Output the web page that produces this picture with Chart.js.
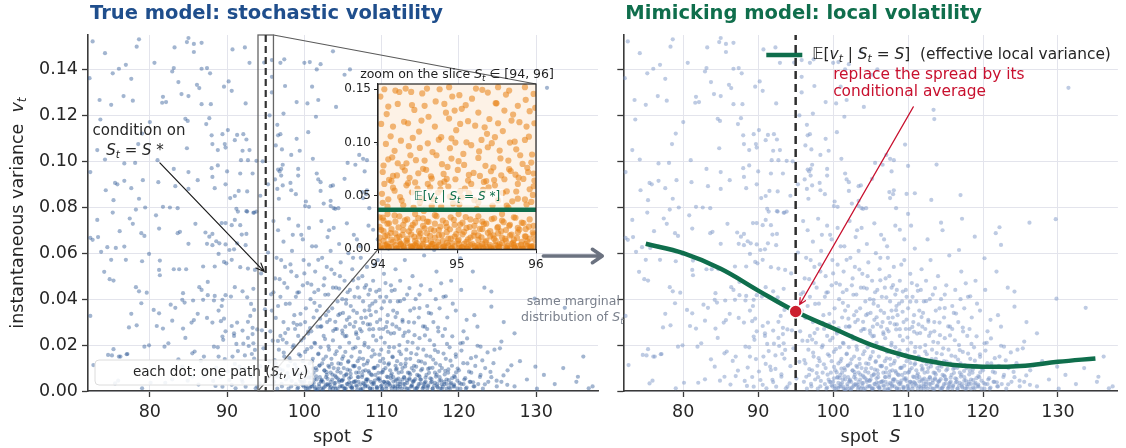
<!DOCTYPE html>
<html>
<head>
<meta charset="utf-8">
<script src="https://cdn.jsdelivr.net/npm/chart.js@4.4.1/dist/chart.umd.min.js"></script>
<style>
  html, body { margin: 0; padding: 0; background: #fff; }
  #wrap { position: relative; width: 1126px; height: 448px; overflow: hidden; }
  #wrap canvas { position: absolute; left: 0; top: 0; }
</style>
</head>
<body>
<div id="wrap">
  <canvas id="left" width="1126" height="448"></canvas>
  <canvas id="right" width="1126" height="448"></canvas>
  <canvas id="inset" width="1126" height="448"></canvas>
</div>
<script>
// axes
const xMin = 72, xMax = 138, yMax = 0.155;
const xTicks = [80, 90, 100, 110, 120, 130];
const yTicks = [0, 0.02, 0.04, 0.06, 0.08, 0.10, 0.12, 0.14];
const insetXTicks = [94, 95, 96];
const insetYTicks = [0, 0.05, 0.10, 0.15];

const sliceLo = 94, sliceHi = 96, sStar = 95;
const condMean = 0.037;   // conditional mean in the slice (inset line)
const dotV = 0.0346;      // red dot on the local variance curve

// effective local variance E[v | S]
const localS = [75, 80, 85, 90, 95, 100, 105, 110, 115, 120, 125, 130, 135];
const localV = [0.0641, 0.0600, 0.0532, 0.0437, 0.0346, 0.0273, 0.0202, 0.0150, 0.0118, 0.0106, 0.0109, 0.0127, 0.0142];

// simulated paths (S_t, v_t)
const pathsHighLeft = [
  [72.6,0.1522],[74.2,0.1471],[78.6,0.1531],[78.3,0.1499],[85.0,0.1537],[84.8,0.1519],[85.7,0.1511],[86.7,0.1516],[85.7,0.1476],[83.2,0.1496],
  [90.7,0.1487],[92.3,0.1496],[92.9,0.1429],[80.6,0.1429],[75.2,0.1383],[76.0,0.1403],[76.9,0.1420],[77.6,0.1359],[72.2,0.1362],[83.1,0.1406],
  [82.9,0.1391],[86.7,0.1403],[87.4,0.1406],[87.8,0.1383],[83.7,0.1345],[86.1,0.1333],[86.4,0.1319],[89.6,0.1325],[90.2,0.1348],[90.6,0.1307],
  [76.6,0.1284],[77.8,0.1264],[75.0,0.1246],[73.5,0.1267],[81.7,0.1281],[81.6,0.1255],[82.1,0.1258],[84.1,0.1293],[85.0,0.1284],[86.7,0.1249],
  [87.9,0.1249],[92.4,0.1252],[73.6,0.1182],[80.0,0.1171],[84.6,0.1185],[84.9,0.1176],[87.7,0.1188],[87.3,0.1162],[79.0,0.1121],[78.5,0.1075],
  [73.2,0.1049],[74.2,0.1008],[76.7,0.0991],[78.1,0.0993],[81.0,0.1005],[84.8,0.1057],[88.0,0.1113],[88.1,0.1075],[89.4,0.1118],[90.1,0.1136],
  [91.3,0.1115],[92.1,0.1118],[91.0,0.1092],[92.5,0.1095],[88.8,0.1049],[89.8,0.1060],[92.0,0.1046],[92.9,0.1049],[89.7,0.1075],[91.8,0.1005],
  [92.7,0.1005],[88.8,0.0982],[88.0,0.0970],[93.8,0.1002],[72.3,0.0953],[75.5,0.0906],[75.8,0.0900],[76.7,0.0915],[77.6,0.0883],[79.1,0.0918],
  [81.1,0.0909],[83.1,0.0967],[83.3,0.0892],[85.0,0.0953],[86.2,0.0918],[85.0,0.0880],[88.1,0.0932],[88.4,0.0883],[89.8,0.0900],[90.0,0.0956],
  [91.7,0.0947],[93.3,0.0947],[91.5,0.0871],[92.6,0.0869],[90.4,0.0840],[74.3,0.0874],[75.3,0.0831],[78.6,0.0837],[81.7,0.0802],[82.6,0.0799],
  [83.6,0.0796],[79.4,0.0799],[78.2,0.0790],[91.2,0.0793],[91.4,0.0781],[92.6,0.0781],[93.4,0.0776],[93.8,0.0781],[91.0,0.0849],
  [94.8,0.1430],[95.5,0.1200],[94.6,0.1000],[95.3,0.0900],[95.8,0.1300],[94.3,0.0850]
];
const pathsHighRight = [
  [95.8,0.1441],[96.9,0.1429],[97.4,0.1444],[100.0,0.1429],[100.7,0.1432],[102.1,0.1423],[101.6,0.1400],[103.7,0.1479],[95.8,0.1368],[97.5,0.1328],
  [101.0,0.1325],[99.0,0.1258],[100.4,0.1252],[101.8,0.1267],[104.1,0.1237],[105.2,0.1377],[105.9,0.1400],[97.3,0.1208],[101.5,0.1194],[96.5,0.1159],
  [96.9,0.1118],[96.6,0.1113],[100.5,0.1127],[99.0,0.1098],[96.3,0.1069],[97.1,0.1052],[98.3,0.1028],[99.4,0.1046],[101.1,0.1011],[107.1,0.1028],
  [107.6,0.1011],[108.1,0.1005],[105.6,0.0993],[106.6,0.0985],[97.2,0.0985],[97.0,0.0967],[96.6,0.0964],[96.8,0.0956],[99.2,0.0967],[99.2,0.0938],
  [97.0,0.0938],[96.2,0.0921],[98.2,0.0906],[96.5,0.0880],[97.2,0.0895],[98.3,0.0874],[98.9,0.0857],[101.6,0.0947],[101.8,0.0921],[102.1,0.0909],
  [103.4,0.0892],[103.7,0.0895],[102.1,0.0871],[105.2,0.0924],[107.8,0.0956],[107.5,0.0866],[108.1,0.0874],[108.0,0.0857],[107.6,0.0840],[96.7,0.0837],
  [100.2,0.0825],[100.6,0.0802],[100.1,0.0805],[102.5,0.0816],[103.4,0.0828],[103.4,0.0805],[104.0,0.0793],[104.4,0.0796],[103.8,0.0796],[108.4,0.0796],
  [109.6,0.1073],[110.0,0.0980],[113.8,0.0986],[117.0,0.0853],[113.1,0.0832],[110.9,0.0861],[109.8,0.0858],[113.4,0.1224],[113.5,0.1184],[131.4,0.1320],
  [110.0,0.0771],[114.4,0.0733],[122.2,0.0713],[126.2,0.0733],[129.7,0.0748],[108.9,0.0702]
];
const pathsMidLeft = [
  [73.2,0.0745],[75.2,0.0777],[77.4,0.0751],[77.8,0.0728],[80.8,0.0765],[81.2,0.0707],[76.1,0.0696],[78.9,0.0687],[79.3,0.0675],[83.6,0.0687],
  [83.9,0.0693],[85.0,0.0641],[85.9,0.0728],[87.2,0.0690],[87.7,0.0672],[87.4,0.0641],[88.1,0.0684],[88.6,0.0652],[88.1,0.0635],[89.0,0.0643],
  [89.3,0.0731],[89.8,0.0731],[90.6,0.0722],[91.0,0.0745],[91.7,0.0722],[92.5,0.0783],[93.5,0.0777],[91.9,0.0681],[92.5,0.0684],[91.3,0.0643],
  [92.4,0.0635],[90.9,0.0617],[89.8,0.0638],[90.3,0.0614],[88.9,0.0597],[72.3,0.0667],[72.6,0.0658],[73.3,0.0670],[73.7,0.0606],[74.5,0.0626],
  [75.6,0.0623],[76.7,0.0629],[75.0,0.0571],[76.9,0.0571],[79.0,0.0565],[79.9,0.0597],[81.3,0.0568],[81.2,0.0527],[83.1,0.0530],[83.8,0.0530],
  [84.7,0.0530],[86.9,0.0542],[88.4,0.0542],[89.6,0.0562],[89.9,0.0556],[90.6,0.0571],[91.7,0.0539],[92.7,0.0533],[93.6,0.0527],[74.1,0.0519],
  [74.8,0.0487],[75.3,0.0481],[78.2,0.0452],[78.6,0.0434],[79.6,0.0428],[81.3,0.0504],[84.3,0.0426],[84.2,0.0397],[84.5,0.0385],[85.6,0.0394],
  [86.4,0.0452],[86.7,0.0440],[87.5,0.0475],[87.5,0.0417],[88.3,0.0394],[89.4,0.0397],[89.8,0.0417],[90.5,0.0411],[86.9,0.0397],[88.4,0.0414],
  [88.9,0.0350],[89.3,0.0370],[91.0,0.0452],[92.0,0.0434],[92.6,0.0408],[93.1,0.0379],[93.5,0.0353],[78.9,0.0382],[82.7,0.0376],[83.3,0.0362],
  [77.6,0.0336],[80.5,0.0353],[81.2,0.0338],[77.3,0.0277],[78.3,0.0286],[80.9,0.0283],[81.7,0.0272],[82.9,0.0306],[84.3,0.0272],[85.4,0.0298],
  [85.7,0.0309],[86.2,0.0336],[87.4,0.0318],[88.1,0.0298],[89.2,0.0304],[89.6,0.0315],[89.8,0.0260],[90.6,0.0283],[91.3,0.0298],[92.0,0.0263],
  [92.7,0.0301],[93.3,0.0275],[93.0,0.0327],[89.4,0.0237],[90.9,0.0240],[79.9,0.0199],[79.3,0.0193],[82.4,0.0208],[81.9,0.0193],[84.6,0.0231],
  [88.3,0.0193],[88.8,0.0190],[91.2,0.0205],[92.8,0.0196],[93.4,0.0208],[72.3,0.0327],[75.3,0.0182],[75.1,0.0155],[76.2,0.0150],[77.1,0.0161],
  [85.5,0.0164],[87.0,0.0150],[88.9,0.0150],[90.7,0.0150],[92.3,0.0155],[93.6,0.0179],[93.2,0.0161],
  [72.7,0.0113],[75.5,0.0033],[75.9,0.0045],[74.6,0.0157],[76.0,0.0150],[77.0,0.0160],[79.0,0.0012],[80.1,0.0036],[82.0,0.0036],[82.9,0.0051],
  [84.2,0.0106],[85.5,0.0062],[86.3,0.0028],[87.0,0.0065],[88.5,0.0022],[89.4,0.0019],[90.3,0.0048],[91.1,0.0012],[91.6,0.0106],[92.0,0.0039],
  [92.4,0.0019],[93.1,0.0062],[94.2,0.0033],[93.7,0.0012],
  [88.6,0.0102],[89.2,0.0061],[89.7,0.0139],[90.1,0.0085],[90.6,0.0027],[91.0,0.0118],[91.4,0.0174],[91.9,0.0049],[92.3,0.0096],[92.7,0.0231],
  [93.1,0.0072],[93.5,0.0141],[93.9,0.0019],[94.3,0.0108],[94.7,0.0186],[95.1,0.0054],[95.5,0.0127],[95.9,0.0219],[94.5,0.0264],[93.3,0.0248],
  [92.1,0.0206],[90.9,0.0251],[89.5,0.0223],[91.7,0.0091],[88.2,0.0044],[87.3,0.0089],[86.6,0.0131],[85.8,0.0172],[84.9,0.0045],[83.7,0.0138]
];
const pathsMidRight = [
  [96.0,0.074],[96.6,0.070],[97.3,0.065],[98.0,0.075],[98.5,0.068],[99.2,0.072],[99.8,0.066],[100.6,0.071],[101.5,0.063],[102.2,0.074],
  [103.0,0.067],[103.8,0.071],[104.5,0.064],[105.5,0.073],[106.4,0.068],[107.2,0.063],[108.3,0.072],[109.5,0.066],
  [95.8,0.035],[96.2,0.049],[96.4,0.058],[96.9,0.041],[97.3,0.030],[97.5,0.054],[97.8,0.045],[98.1,0.038],[98.4,0.061],[98.7,0.033],
  [99.0,0.050],[99.3,0.043],[99.5,0.029],[99.9,0.057],[100.2,0.036],[100.4,0.047],[100.8,0.040],[101.0,0.063],[101.2,0.032],[101.4,0.052],
  [101.8,0.044],[102.0,0.037],[102.3,0.058],[102.6,0.049],[102.8,0.033],[103.1,0.042],[103.4,0.061],[103.6,0.036],[103.9,0.051],[104.1,0.045],
  [104.4,0.033],[104.7,0.056],[104.9,0.040],[105.2,0.048],[105.4,0.038],[105.7,0.060],[105.9,0.044],[106.2,0.053],[106.5,0.041],[106.8,0.034],
  [107.0,0.049],[107.3,0.058],[107.6,0.039],[107.8,0.045],[108.1,0.054],[108.3,0.042],[108.6,0.033],[108.9,0.048],[109.2,0.039],[109.5,0.057],
  [109.7,0.044],[110.0,0.036],[110.3,0.051],[110.6,0.041],[110.9,0.062],[111.2,0.046],[111.5,0.035],[111.8,0.053],[112.1,0.039],[112.4,0.048],
  [112.7,0.031],[113.0,0.057],[113.3,0.042],[113.7,0.035],[114.0,0.050],[114.4,0.040],[114.8,0.032],[115.1,0.046],[115.5,0.059],[115.9,0.037],
  [116.3,0.044],[116.7,0.030],[117.1,0.052],[117.5,0.036],[118.0,0.041],[118.5,0.032],[119.0,0.048],[119.6,0.035],[120.3,0.044],[121.0,0.031],
  [121.8,0.052],[99.6,0.068],[103.2,0.070],[106.8,0.066],[110.4,0.072],[112.6,0.066],[114.6,0.070],[117.2,0.075],
  [95.6,0.026],[96.0,0.043],[96.6,0.037],[97.0,0.057],[97.4,0.047],[97.9,0.027],[98.3,0.052],[98.9,0.041],[99.2,0.024],[99.8,0.046],
  [100.1,0.030],[100.6,0.055],[100.9,0.026],[101.3,0.043],[101.6,0.035],[102.1,0.028],[102.5,0.046],[102.9,0.054],[103.3,0.031],[103.7,0.045],
  [104.0,0.027],[104.3,0.039],[104.6,0.050],[105.0,0.034],[105.3,0.028],[105.6,0.043],[106.0,0.037],[106.3,0.058],[106.6,0.030],[106.9,0.045],
  [107.2,0.027],[107.5,0.050],[107.8,0.035],[108.2,0.029],[108.5,0.044],[108.8,0.038],[109.1,0.055],[109.4,0.030],[109.8,0.041],[110.2,0.027],
  [110.5,0.047],[110.8,0.033],[111.1,0.039],[111.4,0.029],[111.7,0.044],[112.0,0.034],[112.3,0.027],[112.9,0.040],[113.5,0.030],[114.2,0.036],
  [114.9,0.042],[115.6,0.028],[116.1,0.034],[117.0,0.040],[118.2,0.027],[119.2,0.038],[120.6,0.026],[122.0,0.033],[123.3,0.045],[125.8,0.030],
  [124.2,0.0367],[125.5,0.0215],[127.2,0.0251],[129.8,0.0402],[133.7,0.0362],[122.4,0.0280],[122.8,0.0193],[120.2,0.0208],[118.9,0.0672],[121.7,0.0687],
  [122.4,0.0636],[120.2,0.0578],[116.8,0.0614],[117.7,0.0469],[124.2,0.0433],[135.4,0.0062],[136.8,0.0012],[129.9,0.0106],
  [93.4,0.0445],[93.9,0.0268],[94.4,0.0512],[94.9,0.0356],[95.3,0.0603],[95.7,0.0421],[96.3,0.0318],[96.8,0.0487],[97.2,0.0224],[97.6,0.0379],
  [98.2,0.0551],[98.6,0.0297],[99.1,0.0428],[99.5,0.0336],[100.0,0.0512],[100.5,0.0259],[100.9,0.0463],[101.3,0.0384],[101.8,0.0571],[102.2,0.0281],
  [102.7,0.0419],[103.1,0.0347],[103.5,0.0529],[104.0,0.0301],[104.5,0.0446],[104.9,0.0263],[105.4,0.0397],[105.8,0.0321],[106.3,0.0482],[106.7,0.0255],
  [107.1,0.0408],[107.6,0.0297],[108.0,0.0461],[108.4,0.0352],[108.9,0.0269],[109.3,0.0433],[109.8,0.0311],[110.3,0.0389],[110.8,0.0258],[111.3,0.0436],
  [111.8,0.0322],[112.4,0.0391],[113.0,0.0254],[113.6,0.0448],[114.2,0.0298],[114.9,0.0361],[115.6,0.0242],[116.4,0.0337],[117.3,0.0276],[118.3,0.0412]
];
const pathsCore = [
  [96.1,0.004],[96.3,0.012],[96.5,0.001],[96.7,0.018],[96.8,0.007],[96.9,0.024],
  [97.1,0.002],[97.2,0.009],[97.4,0.015],[97.6,0.005],[97.7,0.021],[97.9,0.011],[97.95,0.001],
  [98.0,0.006],[98.2,0.013],[98.3,0.002],[98.5,0.019],[98.6,0.008],[98.8,0.027],[98.9,0.003],
  [99.0,0.010],[99.1,0.001],[99.3,0.016],[99.4,0.005],[99.6,0.022],[99.7,0.008],[99.9,0.002],[99.8,0.013],
  [100.0,0.004],[100.1,0.017],[100.2,0.001],[100.3,0.009],[100.5,0.025],[100.6,0.006],[100.7,0.012],[100.8,0.002],[100.9,0.019],[100.95,0.007],
  [101.0,0.003],[101.1,0.014],[101.2,0.008],[101.3,0.021],[101.4,0.001],[101.5,0.010],[101.6,0.005],[101.7,0.028],[101.8,0.016],[101.9,0.002],[101.95,0.011],
  [102.0,0.006],[102.1,0.019],[102.2,0.001],[102.3,0.012],[102.4,0.004],[102.5,0.024],[102.6,0.009],[102.7,0.002],[102.8,0.015],[102.9,0.007],[102.95,0.030],
  [103.0,0.003],[103.1,0.011],[103.2,0.018],[103.3,0.001],[103.4,0.008],[103.5,0.014],[103.6,0.005],[103.7,0.022],[103.8,0.010],[103.9,0.002],
  [104.0,0.016],[104.1,0.006],[104.2,0.027],[104.3,0.001],[104.4,0.012],[104.5,0.004],[104.6,0.019],[104.7,0.008],[104.8,0.002],[104.9,0.014],[104.95,0.025],
  [105.0,0.005],[105.1,0.010],[105.2,0.001],[105.3,0.017],[105.4,0.007],[105.5,0.031],[105.6,0.003],[105.7,0.013],[105.8,0.021],[105.9,0.009],[105.95,0.002],[105.45,0.024],
  [106.0,0.006],[106.1,0.015],[106.2,0.001],[106.3,0.011],[106.4,0.028],[106.5,0.004],[106.6,0.019],[106.7,0.008],[106.8,0.002],[106.9,0.013],[106.95,0.023],[106.35,0.035],
  [107.0,0.004],[107.1,0.010],[107.2,0.017],[107.3,0.001],[107.4,0.026],[107.5,0.007],[107.6,0.014],[107.7,0.003],[107.8,0.021],[107.9,0.009],[107.95,0.032],[107.55,0.001],
  [108.0,0.005],[108.1,0.012],[108.2,0.002],[108.3,0.019],[108.4,0.008],[108.5,0.029],[108.6,0.004],[108.7,0.015],[108.8,0.001],[108.9,0.024],[108.95,0.010],[108.45,0.037],
  [109.0,0.003],[109.1,0.016],[109.2,0.007],[109.3,0.022],[109.4,0.001],[109.5,0.011],[109.6,0.005],[109.7,0.027],[109.8,0.013],[109.9,0.002],[109.95,0.018],
  [110.0,0.008],[110.1,0.001],[110.2,0.014],[110.3,0.004],[110.4,0.021],[110.5,0.010],[110.6,0.002],[110.7,0.030],[110.8,0.006],[110.9,0.017],[110.95,0.012],
  [111.0,0.003],[111.1,0.009],[111.2,0.025],[111.3,0.001],[111.4,0.015],[111.5,0.006],[111.6,0.019],[111.7,0.002],[111.8,0.011],[111.9,0.028],[111.95,0.005],
  [112.0,0.013],[112.1,0.002],[112.2,0.008],[112.3,0.020],[112.4,0.004],[112.5,0.016],[112.6,0.001],[112.7,0.010],[112.8,0.024],[112.9,0.006],
  [113.0,0.003],[113.1,0.012],[113.2,0.018],[113.3,0.001],[113.4,0.008],[113.5,0.026],[113.6,0.005],[113.7,0.014],[113.8,0.002],[113.9,0.010],
  [114.0,0.021],[114.1,0.004],[114.2,0.011],[114.3,0.001],[114.5,0.016],[114.6,0.007],[114.7,0.002],[114.8,0.013],[114.9,0.023],
  [115.0,0.005],[115.1,0.009],[115.3,0.001],[115.4,0.018],[115.5,0.003],[115.6,0.012],[115.8,0.007],[115.9,0.027],
  [116.0,0.002],[116.2,0.010],[116.3,0.015],[116.5,0.004],[116.6,0.001],[116.8,0.020],[116.9,0.008],
  [117.0,0.012],[117.2,0.003],[117.3,0.017],[117.5,0.006],[117.6,0.001],[117.8,0.010],[117.9,0.024],
  [118.1,0.004],[118.3,0.014],[118.4,0.001],[118.6,0.008],[118.8,0.019],[118.9,0.003],
  [119.1,0.011],[119.3,0.002],[119.5,0.006],[119.6,0.016],[119.8,0.001],
  [120.0,0.009],[120.3,0.003],[120.5,0.021],[120.7,0.005],[120.9,0.001],
  [121.1,0.012],[121.4,0.004],[121.6,0.008],[121.9,0.002],
  [122.2,0.015],[122.5,0.003],[122.8,0.007],[123.1,0.001],[123.4,0.010],[123.8,0.004],
  [124.2,0.006],[124.6,0.018],[124.9,0.002],[125.5,0.004],[126.3,0.009],[127.2,0.002],[127.9,0.013],[128.8,0.005],[130.1,0.001],
  [131.0,0.007],[132.4,0.003],[133.5,0.010],[135.2,0.004],[136.1,0.015],[137.3,0.002]
];
const pathsCoreFill = [
  [96.15,0.0135],[96.42,0.0062],[96.58,0.0218],[96.83,0.0095],[97.05,0.0031],[97.33,0.0167],[97.52,0.0252],[97.81,0.0078],[98.07,0.0143],[98.36,0.0044],
  [98.61,0.0199],[98.77,0.0116],[99.04,0.0288],[99.26,0.0071],[99.49,0.0153],[99.68,0.0039],[99.93,0.0231],[100.12,0.0105],[100.36,0.0182],[100.55,0.0058],
  [100.74,0.0274],[100.98,0.0129],[101.21,0.0036],[101.39,0.0207],[101.58,0.0091],[101.82,0.0163],[102.04,0.0315],[102.27,0.0049],[102.46,0.0138],[102.68,0.0226],
  [102.87,0.0082],[103.12,0.0194],[103.31,0.0027],[103.55,0.0118],[103.73,0.0262],[103.96,0.0067],[104.18,0.0173],[104.39,0.0098],[104.61,0.0336],[104.83,0.0045],
  [105.04,0.0151],[105.26,0.0238],[105.47,0.0074],[105.66,0.0126],[105.89,0.0291],[106.08,0.0034],[106.29,0.0185],[106.53,0.0109],[106.72,0.0247],[106.91,0.0061],
  [107.13,0.0142],[107.36,0.0318],[107.58,0.0086],[107.77,0.0199],[107.99,0.0041],[108.22,0.0131],[108.41,0.0268],[108.64,0.0072],[108.86,0.0177],[109.05,0.0102],
  [109.27,0.0345],[109.48,0.0055],[109.71,0.0158],[109.92,0.0233],[110.14,0.0083],[110.33,0.0122],[110.57,0.0279],[110.76,0.0039],[110.98,0.0191],[111.21,0.0068],
  [111.43,0.0147],[111.62,0.0252],[111.85,0.0093],[112.07,0.0031],[112.29,0.0172],[112.48,0.0117],[112.71,0.0302],[112.93,0.0058],[113.16,0.0139],[113.37,0.0214],
  [113.58,0.0079],[113.82,0.0165],[114.03,0.0042],[114.26,0.0243],[114.47,0.0106],[114.69,0.0186],[114.91,0.0063],[115.14,0.0128],[115.36,0.0281],[115.57,0.0037],
  [115.79,0.0154],[116.02,0.0096],[116.24,0.0221],[116.46,0.0052],[116.67,0.0137],[116.89,0.0178],[117.12,0.0071],[117.34,0.0259],[117.56,0.0113],[117.78,0.0029],
  [118.01,0.0163],[118.23,0.0088],[118.46,0.0205],[118.68,0.0047],[118.91,0.0132],[119.14,0.0238],[119.37,0.0065],[119.61,0.0149],[119.84,0.0098],[120.08,0.0035],
  [120.33,0.0176],[120.57,0.0121],[120.82,0.0056],[121.06,0.0229],[121.31,0.0084],[121.57,0.0143],[121.84,0.0038],[122.12,0.0109],[122.41,0.0197],[122.72,0.0061],
  [123.03,0.0133],[123.36,0.0029],[123.71,0.0168],[124.08,0.0083],[124.47,0.0121],[124.88,0.0045],[125.31,0.0186],[125.77,0.0068],[126.26,0.0027],[126.79,0.0112],
  [100.23,0.0022],[100.47,0.0081],[100.69,0.0013],[100.88,0.0057],[101.11,0.0097],[101.33,0.0019],[101.52,0.0064],[101.74,0.0008],[101.97,0.0112],[102.15,0.0041],
  [102.38,0.0007],[102.59,0.0089],[102.79,0.0028],[103.01,0.0053],[103.22,0.0104],[103.44,0.0016],[103.64,0.0071],[103.86,0.0034],[104.07,0.0009],[104.28,0.0085],
  [104.51,0.0047],[104.72,0.0118],[104.94,0.0021],[105.15,0.0066],[105.37,0.0011],[105.58,0.0093],[105.79,0.0038],[105.99,0.0075],[106.19,0.0017],[106.42,0.0107],
  [106.63,0.0043],[106.84,0.0006],[107.04,0.0081],[107.25,0.0029],[107.47,0.0061],[107.68,0.0114],[107.88,0.0024],[108.09,0.0051],[108.31,0.0087],[108.52,0.0012],
  [108.74,0.0069],[108.96,0.0036],[109.16,0.0101],[109.37,0.0018],[109.59,0.0079],[109.81,0.0044],[110.03,0.0008],[110.24,0.0092],[110.46,0.0033],[110.67,0.0063],
  [110.87,0.0115],[111.09,0.0023],[111.31,0.0076],[111.52,0.0041],[111.73,0.0011],[111.96,0.0097],[112.18,0.0054],[112.39,0.0019],[112.61,0.0083],[112.82,0.0031],
  [113.05,0.0107],[113.27,0.0046],[113.48,0.0009],[113.70,0.0072],[113.93,0.0026],[114.15,0.0089],[114.37,0.0052],[114.58,0.0014],[114.80,0.0067],[115.02,0.0033],
  [115.25,0.0096],[115.47,0.0021],[115.68,0.0058],[115.90,0.0011],[116.13,0.0079],[116.36,0.0037],[116.58,0.0101],[116.80,0.0024],[117.03,0.0063],[117.25,0.0015],
  [117.47,0.0087],[117.70,0.0046],[117.93,0.0019],[118.16,0.0072],[118.40,0.0031],[118.64,0.0094],[118.88,0.0012],[119.12,0.0056],[119.37,0.0028],[119.63,0.0081]
];
const pathsFloor = [
  [99.2,0.0015],[99.5,0.004],[99.8,0.0025],[100.1,0.0055],[100.4,0.001],[100.7,0.0035],[101.0,0.002],[101.3,0.005],[101.6,0.0005],[101.9,0.003],
  [102.2,0.0045],[102.5,0.0015],[102.8,0.006],[103.1,0.0025],[103.4,0.004],[103.7,0.001],[104.0,0.0035],[104.3,0.0055],[104.6,0.002],[104.9,0.0045],
  [105.2,0.001],[105.5,0.003],[105.8,0.0055],[106.1,0.0015],[106.4,0.004],[106.7,0.0025],[107.0,0.006],[107.3,0.0005],[107.6,0.0035],[107.9,0.002],
  [108.2,0.005],[108.5,0.001],[108.8,0.003],[109.1,0.0045],[109.4,0.0015],[109.7,0.0055],[110.0,0.0025],[110.3,0.004],[110.6,0.001],[110.9,0.0035],
  [111.2,0.0055],[111.5,0.002],[111.8,0.0045],[112.1,0.001],[112.4,0.003],[112.7,0.005],[113.0,0.0015],[113.3,0.0035],[113.6,0.0055],[113.9,0.002],
  [114.2,0.0045],[114.5,0.001],[114.8,0.003],[115.1,0.005],[115.4,0.0015],[115.7,0.004],[116.0,0.0025],[116.3,0.0055],[116.6,0.001],[116.9,0.0035],
  [117.2,0.002],[117.5,0.0045],[117.8,0.001],[118.1,0.003],[118.4,0.005],[118.7,0.0015],[119.0,0.0035],[119.4,0.002],[119.8,0.0045],[120.2,0.001],
  [120.6,0.003],[121.0,0.0015],[121.5,0.004],[122.0,0.002]
];

// zoomed slice S_t in [94, 96]
const sliceHigh = [
  [94.08,0.1501],[94.22,0.1488],[94.35,0.1507],[94.42,0.1476],[94.62,0.1507],[94.78,0.1501],[94.90,0.1520],[95.03,0.1445],[95.24,0.1507],[95.39,0.1470],
  [95.52,0.1520],[95.66,0.1488],[95.86,0.1520],[95.97,0.1457],[94.13,0.1338],[94.25,0.1363],[94.46,0.1307],[94.59,0.1345],[94.84,0.1363],[94.97,0.1301],
  [95.11,0.1351],[95.27,0.1282],[95.49,0.1370],[95.60,0.1301],[95.77,0.1345],[95.92,0.1295],[94.04,0.1176],[94.19,0.1151],[94.38,0.1182],[94.55,0.1207],
  [94.72,0.1151],[94.90,0.1226],[95.04,0.1176],[95.14,0.1201],[95.35,0.1144],[95.52,0.1182],[95.69,0.1207],[95.88,0.1151],[95.98,0.1182],[94.10,0.0988],
  [94.29,0.1019],[94.44,0.1044],[94.63,0.0994],[94.80,0.1051],[94.98,0.1001],[95.18,0.0976],[95.31,0.1026],[95.48,0.1051],[95.67,0.1001],[95.86,0.1026],
  [94.13,0.0844],[94.25,0.0807],[94.41,0.0882],[94.59,0.0832],[94.74,0.0882],[94.93,0.0851],[95.08,0.0894],[95.27,0.0857],[95.39,0.0957],[95.54,0.0926],
  [95.65,0.0832],[95.80,0.0882],[95.94,0.0813],[94.06,0.0725],[94.19,0.0688],[94.34,0.0738],[94.51,0.0713],[94.68,0.0663],[94.83,0.0707],[95.01,0.0744],
  [95.14,0.0644],[95.29,0.0688],[95.43,0.0732],[95.60,0.0657],[95.74,0.0700],[95.90,0.0725],[95.98,0.0644],[94.08,0.0613],[94.21,0.0550],[94.36,0.0600],
  [94.50,0.0569],[94.63,0.0613],[94.76,0.0532],[94.89,0.0588],[95.04,0.0544],[95.18,0.0613],[95.33,0.0557],[95.48,0.0600],[95.63,0.0544],[95.77,0.0613],
  [95.92,0.0563],[94.13,0.0469],[94.30,0.0457],[95.06,0.0488],[95.77,0.0475],[95.94,0.0444],
  [94.05,0.052],[94.17,0.064],[94.28,0.049],[94.40,0.067],[94.53,0.044],[94.66,0.058],[94.70,0.047],[94.87,0.066],[94.95,0.043],[95.10,0.057],
  [95.22,0.046],[95.37,0.064],[95.45,0.041],[95.58,0.053],[95.70,0.045],[95.84,0.066],[95.96,0.051],[94.45,0.039],[94.80,0.040],[95.25,0.038],
  [95.65,0.039],[95.88,0.042],[94.12,0.040],[94.58,0.036],
  [94.03,0.1432],[94.11,0.1268],[94.16,0.1059],[94.21,0.0923],[94.27,0.1475],[94.31,0.0771],[94.33,0.1196],[94.39,0.0967],[94.43,0.1353],[94.48,0.0836],
  [94.52,0.1104],[94.56,0.1462],[94.61,0.0745],[94.64,0.1243],[94.69,0.0912],[94.73,0.1387],[94.77,0.1028],[94.81,0.0798],[94.86,0.1281],[94.91,0.0948],
  [94.94,0.1433],[94.99,0.1117],[95.02,0.0826],[95.06,0.1317],[95.12,0.1004],[95.15,0.0697],[95.19,0.1412],[95.23,0.1159],[95.28,0.0918],[95.32,0.1495],
  [95.36,0.0783],[95.41,0.1222],[95.44,0.0995],[95.50,0.1369],[95.55,0.0852],[95.58,0.1109],[95.62,0.1451],[95.68,0.0734],[95.71,0.1263],[95.75,0.0937],
  [95.79,0.1192],[95.83,0.0801],[95.87,0.1402],[95.91,0.1056],[95.95,0.0889],[95.99,0.1327],[94.07,0.0786],[94.14,0.0651],[94.24,0.0693],[94.36,0.0806],
  [94.47,0.0627],[94.57,0.0755],[94.67,0.0684],[94.79,0.0619],[94.88,0.0772],[94.98,0.0657],[95.09,0.0791],[95.21,0.0716],[95.34,0.0632],[95.46,0.0768],
  [95.56,0.0694],[95.66,0.0751],[95.78,0.0672],[95.89,0.0764],[95.97,0.0711],[94.18,0.0862],[94.53,0.0951],[94.93,0.1041],[95.38,0.1083],[95.73,0.1009],
  [94.06,0.0436],[94.19,0.0578],[94.32,0.0412],[94.43,0.0534],[94.55,0.0475],[94.68,0.0407],[94.79,0.0561],[94.91,0.0493],[95.03,0.0421],[95.15,0.0526],
  [95.27,0.0442],[95.40,0.0582],[95.52,0.0458],[95.63,0.0409],[95.75,0.0542],[95.86,0.0468],[95.97,0.0591],[94.38,0.0621],[94.84,0.0634],[95.47,0.0649]
];
const sliceLow = [
  [94.02,0.003],[94.02,0.011],[94.02,0.021],[94.02,0.030],[94.07,0.001],[94.07,0.008],[94.07,0.017],[94.07,0.027],[94.12,0.005],[94.12,0.013],
  [94.12,0.024],[94.12,0.033],[94.17,0.002],[94.17,0.009],[94.17,0.019],[94.22,0.004],[94.22,0.015],[94.22,0.026],[94.27,0.001],[94.27,0.007],
  [94.27,0.012],[94.27,0.031],[94.32,0.003],[94.32,0.018],[94.32,0.023],[94.37,0.006],[94.37,0.010],[94.37,0.028],[94.42,0.002],[94.42,0.014],
  [94.42,0.020],[94.47,0.004],[94.47,0.008],[94.47,0.025],[94.47,0.033],[94.52,0.001],[94.52,0.012],[94.52,0.017],[94.57,0.005],[94.57,0.009],
  [94.57,0.022],[94.57,0.029],[94.62,0.002],[94.62,0.015],[94.62,0.026],[94.67,0.003],[94.67,0.007],[94.67,0.019],[94.72,0.001],[94.72,0.011],
  [94.72,0.024],[94.72,0.032],[94.77,0.004],[94.77,0.013],[94.77,0.018],[94.82,0.002],[94.82,0.008],[94.82,0.027],[94.87,0.006],[94.87,0.016],
  [94.87,0.021],[94.92,0.001],[94.92,0.010],[94.92,0.030],[94.97,0.003],[94.97,0.012],[94.97,0.023],[95.02,0.005],[95.02,0.009],[95.02,0.018],
  [95.02,0.033],[95.07,0.002],[95.07,0.014],[95.07,0.025],[95.12,0.001],[95.12,0.007],[95.12,0.020],[95.17,0.004],[95.17,0.011],[95.17,0.028],
  [95.22,0.003],[95.22,0.016],[95.22,0.022],[95.27,0.001],[95.27,0.009],[95.27,0.013],[95.27,0.031],[95.32,0.005],[95.32,0.019],[95.32,0.026],
  [95.37,0.002],[95.37,0.008],[95.37,0.024],[95.42,0.004],[95.42,0.012],[95.42,0.017],[95.47,0.001],[95.47,0.010],[95.47,0.029],[95.52,0.003],
  [95.52,0.015],[95.52,0.021],[95.57,0.006],[95.57,0.011],[95.57,0.027],[95.57,0.033],[95.62,0.002],[95.62,0.008],[95.62,0.018],[95.67,0.001],
  [95.67,0.013],[95.67,0.023],[95.72,0.004],[95.72,0.009],[95.72,0.030],[95.77,0.003],[95.77,0.016],[95.77,0.020],[95.82,0.001],[95.82,0.007],
  [95.82,0.025],[95.87,0.005],[95.87,0.012],[95.87,0.019],[95.92,0.002],[95.92,0.010],[95.92,0.028],[95.97,0.003],[95.97,0.014],[95.97,0.022],
  [94.04,0.000],[94.14,0.002],[94.24,0.001],[94.34,0.000],[94.44,0.003],[94.54,0.000],[94.64,0.001],[94.74,0.002],[94.84,0.000],[94.94,0.001],
  [95.04,0.000],[95.14,0.002],[95.24,0.000],[95.34,0.001],[95.44,0.000],[95.54,0.002],[95.64,0.000],[95.74,0.001],[95.84,0.000],[95.94,0.002],
  [94.09,0.004],[94.29,0.005],[94.49,0.003],[94.69,0.005],[94.89,0.004],[95.09,0.005],[95.29,0.003],[95.49,0.004],[95.69,0.005],[95.89,0.003],
  [94.01,0.0064],[94.04,0.0183],[94.06,0.0297],[94.09,0.0121],[94.11,0.0036],[94.14,0.0244],[94.16,0.0152],[94.19,0.0071],[94.21,0.0318],[94.24,0.0109],
  [94.26,0.0205],[94.29,0.0043],[94.31,0.0136],[94.34,0.0271],[94.36,0.0082],[94.39,0.0169],[94.41,0.0027],[94.44,0.0229],[94.46,0.0117],[94.49,0.0059],
  [94.51,0.0292],[94.54,0.0148],[94.56,0.0035],[94.59,0.0197],[94.61,0.0089],[94.64,0.0258],[94.66,0.0125],[94.69,0.0048],[94.71,0.0176],[94.74,0.0311],
  [94.76,0.0068],[94.79,0.0214],[94.81,0.0133],[94.84,0.0029],[94.86,0.0247],[94.89,0.0101],[94.91,0.0188],[94.94,0.0056],[94.96,0.0276],[94.99,0.0143],
  [95.01,0.0077],[95.04,0.0232],[95.06,0.0019],[95.09,0.0164],[95.11,0.0302],[95.14,0.0094],[95.16,0.0209],[95.19,0.0052],[95.21,0.0128],[95.24,0.0266],
  [95.26,0.0039],[95.29,0.0191],[95.31,0.0112],[95.34,0.0237],[95.36,0.0067],[95.39,0.0155],[95.41,0.0024],[95.44,0.0283],[95.46,0.0131],[95.49,0.0079],
  [95.51,0.0202],[95.54,0.0046],[95.56,0.0169],[95.59,0.0254],[95.61,0.0098],[95.64,0.0033],[95.66,0.0221],[95.69,0.0139],[95.71,0.0061],[95.74,0.0296],
  [95.76,0.0107],[95.79,0.0185],[95.81,0.0042],[95.84,0.0246],[95.86,0.0121],[95.89,0.0074],[95.91,0.0212],[95.94,0.0031],[95.96,0.0159],[95.99,0.0088],
  [94.03,0.0012],[94.13,0.0018],[94.23,0.0009],[94.33,0.0015],[94.43,0.0011],[94.53,0.0017],[94.63,0.0008],[94.73,0.0014],[94.83,0.0019],[94.93,0.0010],
  [95.03,0.0016],[95.13,0.0007],[95.23,0.0013],[95.33,0.0018],[95.43,0.0009],[95.53,0.0015],[95.63,0.0012],[95.73,0.0017],[95.83,0.0008],[95.93,0.0014]
];

const toXY = p => ({ x: p[0], y: p[1] });
const paths = [].concat(pathsHighLeft, pathsHighRight, pathsMidLeft, pathsMidRight, pathsCore, pathsCoreFill, pathsFloor).map(toXY);
const slicePaths = [].concat(sliceHigh, sliceLow).map(toXY);

const FONT = '"DejaVu Sans", sans-serif';
const INK = '#262626';
const SPINE = '#3a3a3a';
const GRID = '#e3e4ec';
const BLUE = '#1f4e8c';
const GREEN = '#0f6e4c';
const RED = '#c8102e';

// small mathtext-like writer: [text, style] with style r / i / si (italic subscript) / b
function setFont(ctx, st, size) {
  const sub = st[0] === 's';
  const sz = sub ? size * 0.7 : size;
  ctx.font = (st.indexOf('i') >= 0 ? 'italic ' : '') + (st === 'b' ? 'bold ' : '') + sz + 'px ' + FONT;
}
function drawRich(ctx, parts, x, y, size, color, align) {
  ctx.save();
  ctx.fillStyle = color;
  ctx.textBaseline = 'middle';
  ctx.textAlign = 'left';
  let w = 0;
  parts.forEach(p => { setFont(ctx, p[1], size); w += ctx.measureText(p[0]).width; });
  let cx = align === 'center' ? x - w / 2 : (align === 'right' ? x - w : x);
  parts.forEach(p => {
    setFont(ctx, p[1], size);
    const dy = p[1][0] === 's' ? size * 0.3 : 0;
    ctx.fillText(p[0], cx, y + dy);
    cx += ctx.measureText(p[0]).width;
  });
  ctx.restore();
  return w;
}
function arrow(ctx, x1, y1, x2, y2, color, lw, head, ang) {
  const a = Math.atan2(y2 - y1, x2 - x1);
  ctx.save();
  ctx.strokeStyle = color;
  ctx.lineWidth = lw;
  ctx.lineCap = 'round';
  ctx.lineJoin = 'round';
  ctx.beginPath();
  ctx.moveTo(x1, y1);
  ctx.lineTo(x2, y2);
  ctx.moveTo(x2 - head * Math.cos(a - ang), y2 - head * Math.sin(a - ang));
  ctx.lineTo(x2, y2);
  ctx.lineTo(x2 - head * Math.cos(a + ang), y2 - head * Math.sin(a + ang));
  ctx.stroke();
  ctx.restore();
}

function mainScales(yWidth, showY) {
  const gridOpts = { color: GRID, lineWidth: 1, tickColor: SPINE, tickLength: 6, tickWidth: 1.3 };
  return {
    x: {
      type: 'linear', min: xMin, max: xMax,
      afterBuildTicks: s => { s.ticks = xTicks.map(v => ({ value: v })); },
      afterFit: s => { s.height = 57; },
      ticks: { color: INK, font: { family: FONT, size: 17.5 }, padding: 5, maxRotation: 0, autoSkip: false, callback: v => String(v) },
      grid: gridOpts,
      border: { color: SPINE, width: 1.6 }
    },
    y: {
      type: 'linear', min: 0, max: yMax,
      afterBuildTicks: s => { s.ticks = yTicks.map(v => ({ value: v })); },
      afterFit: s => { s.width = yWidth; },
      ticks: { display: showY, color: INK, font: { family: FONT, size: 17.5 }, padding: 4, autoSkip: false, callback: v => v.toFixed(2) },
      grid: gridOpts,
      border: { color: SPINE, width: 1.6 }
    }
  };
}
const common = {
  responsive: false, animation: false, devicePixelRatio: 1, events: [],
  plugins: { legend: { display: false }, tooltip: { enabled: false } }
};

// ---------- inset (zoom on the slice) ----------
const insetDecor = {
  id: 'insetDecor',
  beforeDatasetsDraw(chart) {
    const { ctx, chartArea: a } = chart;
    ctx.save();
    ctx.fillStyle = '#fdf2e6';
    ctx.fillRect(a.left, a.top, a.right - a.left, a.bottom - a.top);
    ctx.restore();
  },
  afterDatasetsDraw(chart) {
    const { ctx, chartArea: a, scales: { y } } = chart;
    const parts = [['\u{1D53C}[', 'r'], ['v', 'i'], ['t', 'si'], [' | ', 'r'], ['S', 'i'], ['t', 'si'], [' = ', 'r'], ['S', 'i'], [' *]', 'r']];
    const cx = (a.left + a.right) / 2, cy = y.getPixelForValue(condMean) - 13;
    ctx.save();
    ctx.fillStyle = 'rgba(255,255,255,0.7)';
    ctx.fillRect(cx - 46, cy - 8, 92, 16);
    ctx.restore();
    drawRich(ctx, parts, cx, cy, 12, GREEN, 'center');
  },
  afterDraw(chart) {
    const { ctx, chartArea: a } = chart;
    ctx.save();
    ctx.strokeStyle = '#222';
    ctx.lineWidth = 1.2;
    ctx.strokeRect(a.left, a.top, a.right - a.left, a.bottom - a.top);
    ctx.restore();
    drawRich(ctx, [['zoom on the slice ', 'r'], ['S', 'i'], ['t', 'si'], [' \u2208 [94, 96]', 'r']],
      (a.left + a.right) / 2, a.top - 9, 12.5, '#222', 'center');
  }
};
const insetChart = new Chart(document.getElementById('inset'), {
  type: 'scatter',
  data: {
    datasets: [
      { data: [{ x: sliceLo, y: condMean }, { x: sliceHi, y: condMean }], showLine: true, borderColor: GREEN, borderWidth: 4.5, pointRadius: 0, order: 0 },
      { data: slicePaths, backgroundColor: 'rgba(232,128,16,0.55)', pointRadius: 3.1, pointBorderWidth: 0, order: 1 }
    ]
  },
  options: Object.assign({}, common, {
    layout: { padding: { left: 330, top: 84, right: 590, bottom: 174.7 } },
    scales: {
      x: {
        type: 'linear', min: sliceLo, max: sliceHi,
        afterBuildTicks: s => { s.ticks = insetXTicks.map(v => ({ value: v })); },
        afterFit: s => { s.height = 24; },
        ticks: { color: '#222', font: { family: FONT, size: 12 }, padding: 4, maxRotation: 0, callback: v => String(v) },
        grid: { drawOnChartArea: false, tickColor: '#222', tickLength: 4, tickWidth: 1 },
        border: { color: '#222', width: 1.2 }
      },
      y: {
        type: 'linear', min: 0, max: yMax,
        afterBuildTicks: s => { s.ticks = insetYTicks.map(v => ({ value: v })); },
        afterFit: s => { s.width = 48; },
        ticks: { color: '#222', font: { family: FONT, size: 12 }, padding: 3, callback: v => v.toFixed(2) },
        grid: { drawOnChartArea: false, tickColor: '#222', tickLength: 4, tickWidth: 1 },
        border: { color: '#222', width: 1.2 }
      }
    }
  }),
  plugins: [insetDecor]
});

// ---------- left panel: stochastic volatility ----------
const leftDecor = {
  id: 'leftDecor',
  afterDatasetsDraw(chart) {
    const { ctx, chartArea: a, scales: { x } } = chart;
    const xa = x.getPixelForValue(sliceLo), xb = x.getPixelForValue(sliceHi), xs = x.getPixelForValue(sStar);
    const ia = insetChart.chartArea;
    ctx.save();
    // connectors to the inset
    ctx.strokeStyle = '#5a5a5a';
    ctx.lineWidth = 1.2;
    ctx.beginPath();
    ctx.moveTo(xb, a.top); ctx.lineTo(ia.right, ia.top);
    ctx.moveTo(xa, a.bottom); ctx.lineTo(ia.left, ia.bottom);
    ctx.stroke();
    // note box
    ctx.fillStyle = 'rgba(255,255,255,0.88)';
    ctx.strokeStyle = '#dcdcdc';
    ctx.lineWidth = 1;
    ctx.beginPath();
    ctx.roundRect(a.left + 7, a.bottom - 31, 218, 25, 4);
    ctx.fill(); ctx.stroke();
    ctx.restore();
    drawRich(ctx, [['each dot: one path (', 'r'], ['S', 'i'], ['t', 'si'], [', ', 'r'], ['v', 'i'], ['t', 'si'], [')', 'r']],
      a.left + 45, a.bottom - 19, 13.5, INK, 'left');
    // slice box and S*
    ctx.save();
    ctx.strokeStyle = '#666';
    ctx.lineWidth = 1.3;
    ctx.strokeRect(xa, a.top, xb - xa, a.bottom - a.top);
    ctx.strokeStyle = '#333';
    ctx.lineWidth = 2.2;
    ctx.setLineDash([7, 4]);
    ctx.beginPath();
    ctx.moveTo(xs, a.top); ctx.lineTo(xs, a.bottom);
    ctx.stroke();
    ctx.restore();
  },
  afterDraw(chart) {
    const { ctx, chartArea: a, scales: { x, y } } = chart;
    drawRich(ctx, [['True model: stochastic volatility', 'b']], a.left + 2, 14, 19.5, BLUE, 'left');
    drawRich(ctx, [['spot  ', 'r'], ['S', 'i']], (a.left + a.right) / 2, 437, 17.5, INK, 'center');
    ctx.save();
    ctx.translate(18, (a.top + a.bottom) / 2);
    ctx.rotate(-Math.PI / 2);
    drawRich(ctx, [['instantaneous variance  ', 'r'], ['v', 'i'], ['t', 'si']], 0, 0, 17.5, INK, 'center');
    ctx.restore();
    // condition on S_t = S*
    const tx = x.getPixelForValue(78.6), ty = y.getPixelForValue(0.1133);
    drawRich(ctx, [['condition on', 'r']], tx, ty, 15, INK, 'center');
    drawRich(ctx, [['S', 'i'], ['t', 'si'], [' = ', 'r'], ['S', 'i'], [' *', 'r']], tx - 4, ty + 20, 15, INK, 'center');
    arrow(ctx, x.getPixelForValue(81.3), y.getPixelForValue(0.0993), x.getPixelForValue(94.8), y.getPixelForValue(0.052), '#1a1a1a', 1.2, 9, 0.4);
  }
};
new Chart(document.getElementById('left'), {
  type: 'scatter',
  data: {
    datasets: [
      { data: paths, backgroundColor: 'rgba(34,78,142,0.42)', pointRadius: 2.1, pointBorderWidth: 0 }
    ]
  },
  options: Object.assign({}, common, {
    layout: { padding: { left: 0, top: 35, right: 528, bottom: 0 } },
    scales: mainScales(88, true)
  }),
  plugins: [leftDecor]
});

// ---------- right panel: local volatility ----------
const rightDecor = {
  id: 'rightDecor',
  afterDraw(chart) {
    const { ctx, chartArea: a, scales: { x, y } } = chart;
    drawRich(ctx, [['Mimicking model: local volatility', 'b']], a.left + 2, 14, 19.5, GREEN, 'left');
    drawRich(ctx, [['spot  ', 'r'], ['S', 'i']], (a.left + a.right) / 2, 437, 17.5, INK, 'center');
    // legend
    ctx.save();
    ctx.strokeStyle = GREEN;
    ctx.lineWidth = 4.5;
    ctx.beginPath();
    ctx.moveTo(a.left + 143, 55); ctx.lineTo(a.left + 179, 55);
    ctx.stroke();
    ctx.restore();
    drawRich(ctx, [['\u{1D53C}[', 'r'], ['v', 'i'], ['t', 'si'], [' | ', 'r'], ['S', 'i'], ['t', 'si'], [' = ', 'r'], ['S', 'i'], [']  (effective local variance)', 'r']],
      a.left + 189, 55, 15.4, INK, 'left');
    // red annotation
    const lx = x.getPixelForValue(100), ly = y.getPixelForValue(0.1377);
    drawRich(ctx, [['replace the spread by its', 'r']], lx, ly, 15.4, RED, 'left');
    drawRich(ctx, [['conditional average', 'r']], lx, ly + 17, 15.4, RED, 'left');
    const sx = x.getPixelForValue(110.7), sy = y.getPixelForValue(0.1237);
    const dx = x.getPixelForValue(sStar), dy = y.getPixelForValue(dotV);
    const len = Math.hypot(sx - dx, sy - dy);
    arrow(ctx, sx, sy, dx + (sx - dx) / len * 8, dy + (sy - dy) / len * 8, RED, 1.2, 7, 0.45);
    // bridge between the panels
    arrow(ctx, a.left - 80, 256, a.left - 21, 256, '#6b7280', 3.5, 12, 0.6);
    drawRich(ctx, [['same marginal', 'r']], a.left - 50, 302, 12.5, '#7a808c', 'center');
    drawRich(ctx, [['distribution of ', 'r'], ['S', 'i'], ['t', 'si']], a.left - 51, 318, 12.5, '#7a808c', 'center');
  }
};
new Chart(document.getElementById('right'), {
  type: 'scatter',
  data: {
    datasets: [
      { data: [{ x: sStar, y: dotV }], backgroundColor: '#cc1f2f', borderColor: '#fff', pointBorderWidth: 1.6, pointRadius: 6.5, order: 0 },
      { data: localS.map((s, i) => ({ x: s, y: localV[i] })), showLine: true, borderColor: GREEN, borderWidth: 4.5, pointRadius: 0, tension: 0.4, order: 1 },
      { data: [{ x: sStar, y: 0 }, { x: sStar, y: yMax }], showLine: true, borderColor: '#2e2e2e', borderWidth: 2.5, borderDash: [8, 5], pointRadius: 0, order: 2 },
      { data: paths, backgroundColor: 'rgba(125,152,200,0.5)', pointRadius: 2.1, pointBorderWidth: 0, order: 3 }
    ]
  },
  options: Object.assign({}, common, {
    layout: { padding: { left: 600, top: 35, right: 2, bottom: 0 } },
    scales: mainScales(23.3, false)
  }),
  plugins: [rightDecor]
});
</script>
</body>
</html>
